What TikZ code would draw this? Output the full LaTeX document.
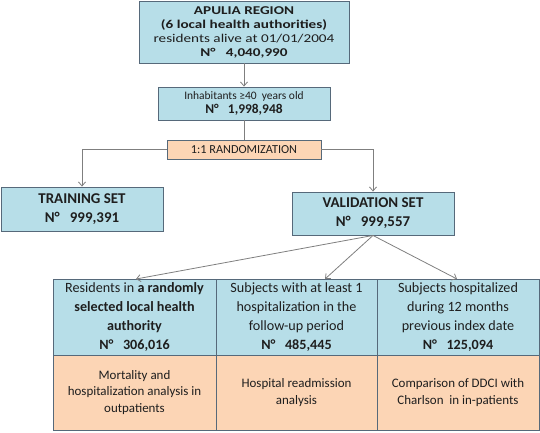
\documentclass[tikz,border=0pt]{standalone}
\usepackage{fontspec}
\setmainfont{Carlito}
\newfontfamily\widefont[FakeStretch=1.27]{Carlito}
\usetikzlibrary{arrows.meta,calc}
\definecolor{boxblue}{HTML}{B7DEE8}
\definecolor{boxorange}{HTML}{FCD5B5}
\definecolor{boxline}{HTML}{56697A}
\definecolor{connc}{HTML}{7F7F7F}
\definecolor{txt}{HTML}{1E1E1E}
\begin{document}
\begin{tikzpicture}[x=1bp,y=-1bp,
  cell/.style={draw=boxline, line width=0.9bp, inner sep=0pt, align=center, text=txt},
  bluebox/.style={cell, fill=boxblue},
  orangebox/.style={cell, fill=boxorange},
  connline/.style={draw=connc, line width=0.8bp},
  arr/.style={connline, -{Straight Barb[length=4bp,width=7bp]}}]
\useasboundingbox (0,0) rectangle (540,432);

\node[bluebox, minimum width=210bp, minimum height=62bp, font=\widefont\fontsize{12}{14}\selectfont] (top) at (244,32)
  {\textbf{APULIA REGION}\\ \textbf{(6 local health authorities)}\\ residents alive at 01/01/2004\\ \textbf{N°~~~4,040,990}};
\node[bluebox, minimum width=172bp, minimum height=33bp, font=\fontsize{11.5}{14}\selectfont] (inh) at (244,103.5)
  {Inhabitants ≥40~ years old\\ {\fontsize{13.5}{14}\selectfont\textbf{N°~~~1,998,948}}};
\node[orangebox, minimum width=154bp, minimum height=19bp, font=\fontsize{12.3}{13}\selectfont] (rand) at (244,149.5)
  {1:1 RANDOMIZATION};
\node[bluebox, minimum width=162bp, minimum height=44bp, font=\fontsize{15}{19}\selectfont\bfseries] (train) at (82,209)
  {TRAINING SET\\ N°~~~999,391};
\node[bluebox, minimum width=162bp, minimum height=43bp, font=\fontsize{15}{19}\selectfont\bfseries] (valid) at (373,213.5)
  {VALIDATION SET\\ N°~~~999,557};

\node[bluebox, minimum width=163bp, minimum height=76bp, font=\fontsize{14.2}{19}\selectfont] (c1) at (134.5,317)
  {Residents in \textbf{a randomly}\\ \textbf{selected local health}\\ \textbf{authority}\\ \textbf{N°~~~306,016}};
\node[bluebox, minimum width=161bp, minimum height=76bp, font=\fontsize{14.2}{19}\selectfont] (c2) at (296.5,317)
  {Subjects with at least 1\\ hospitalization in the\\ follow-up period\\ \textbf{N°~~~485,445}};
\node[bluebox, minimum width=162bp, minimum height=76bp, font=\fontsize{14.2}{19}\selectfont] (c3) at (458,317)
  {Subjects hospitalized\\ during 12 months\\ previous index date\\ \textbf{N°~~~125,094}};
\node[orangebox, minimum width=163bp, minimum height=75bp, font=\fontsize{13}{16.5}\selectfont] (d1) at (134.5,392.5)
  {Mortality and\\ hospitalization analysis in\\ outpatients};
\node[orangebox, minimum width=161bp, minimum height=75bp, font=\fontsize{13}{16.5}\selectfont] (d2) at (296.5,392.5)
  {Hospital readmission\\ analysis};
\node[orangebox, minimum width=162bp, minimum height=75bp, font=\fontsize{13}{16.5}\selectfont] (d3) at (458,392.5)
  {Comparison of DDCI with\\ Charlson~ in in-patients};

\coordinate (t1) at (136,279);
\coordinate (t2) at (325,279);
\coordinate (t3) at (457,279);

\draw[arr] (top.south) -- (inh.north);
\draw[connline] (inh.south) -- (rand.north);
\draw[arr] (rand.west) -| (train.north);
\draw[arr] (rand.east) -| (valid.north);
\draw[arr] (valid.south) -- (t1);
\draw[arr] (valid.south) -- (t2);
\draw[arr] (valid.south) -- (t3);
\end{tikzpicture}
\end{document}
